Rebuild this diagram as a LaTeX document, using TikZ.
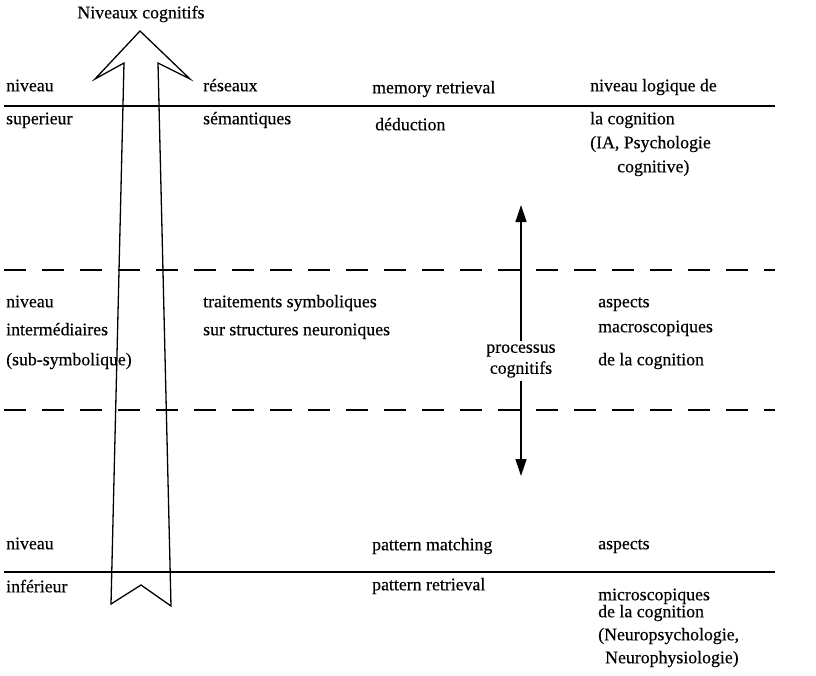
\documentclass[tikz,border=0pt]{standalone}
\usepackage{fontspec}
\setmainfont{Liberation Serif}[FakeBold=0.4]
\usetikzlibrary{positioning,arrows.meta}

\begin{document}
\begin{tikzpicture}
  [x=1pt,y=-1pt,
   txt/.style={anchor=mid west,inner sep=0pt,
               font=\fontsize{17.8}{21}\selectfont},
   levelline/.style={line width=1.8pt},
   leveldash/.style={line width=1.8pt,dash pattern=on 22pt off 16pt},
   flow/.style={line width=1.3pt,-{Triangle[length=17pt,width=11pt]}}]
  \useasboundingbox (0,0) rectangle (816,675);

  % level boundaries
  \coordinate (sup w) at (4,106);   \coordinate (sup e) at (775,106);
  \coordinate (mid w) at (4,270);   \coordinate (mid e) at (775,270);
  \coordinate (sub w) at (4,410);   \coordinate (sub e) at (775,410);
  \coordinate (inf w) at (4,572);   \coordinate (inf e) at (775,572);
  \draw[levelline] (sup w) -- (sup e);
  \draw[leveldash] (mid w) -- (mid e);
  \draw[leveldash] (sub w) -- (sub e);
  \draw[levelline] (inf w) -- (inf e);

  % big hollow arrow
  \node[txt,anchor=center] (title) at (141,14) {Niveaux cognitifs};
  \draw[line width=1.3pt,line join=miter]
    (140,31) -- (190,79) -- (158,63) -- (171,606) -- (141,585)
    -- (111,604) -- (124,63) -- (95,79) -- cycle;

  % upper level
  \node[txt] (niv sup)   at (6,89)    {niveau};
  \node[txt] (superieur) at (6,122)   {superieur};
  \node[txt] (reseaux)   at (203,89)  {réseaux};
  \node[txt] (semant)    at (203,122) {sémantiques};
  \node[txt] (memory)    at (372,91)  {memory retrieval};
  \node[txt] (deduction) at (375,128) {déduction};
  \node[txt] (logique)   at (590,89)  {niveau logique de};
  \node[txt] (la cog)    at (590,122) {la cognition};
  \node[txt] (ia)        at (590,146) {(IA, Psychologie};
  \node[txt] (cogn)      at (617,170) {cognitive)};

  % intermediate level
  \node[txt] (niv mid)   at (6,305)   {niveau};
  \node[txt] (interm)    at (6,333)   {intermédiaires};
  \node[txt] (subsym)    at (6,363)   {(sub-symbolique)};
  \node[txt] (traitem)   at (203,305) {traitements symboliques};
  \node[txt] (struct)    at (203,333) {sur structures neuroniques};
  \node[txt] (asp mac)   at (598,305) {aspects};
  \node[txt] (macro)     at (598,330) {macroscopiques};
  \node[txt] (mac cog)   at (598,363) {de la cognition};

  % processes, both ways
  \node[txt,anchor=center,align=center,inner sep=3pt] (proc) at (521,361)
    {processus\\cognitifs};
  \coordinate (proc up)   at (521,205);
  \coordinate (proc down) at (521,476);
  \draw[flow] (proc) -- (proc up);
  \draw[flow] (proc) -- (proc down);

  % lower level
  \node[txt] (niv inf)   at (6,547)   {niveau};
  \node[txt] (inferieur) at (6,590)   {inférieur};
  \node[txt] (matching)  at (372,548) {pattern matching};
  \node[txt] (retrieval) at (372,588) {pattern retrieval};
  \node[txt] (asp mic)   at (598,547) {aspects};
  \node[txt] (micro)     at (598,598) {microscopiques};
  \node[txt] (mic cog)   at (598,615) {de la cognition};
  \node[txt] (npsy)      at (598,638) {(Neuropsychologie,};
  \node[txt] (nphy)      at (605,661) {Neurophysiologie)};
\end{tikzpicture}
\end{document}
